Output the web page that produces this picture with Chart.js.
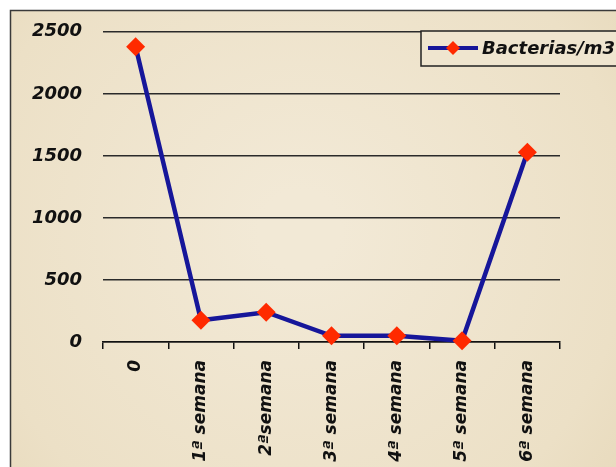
<!DOCTYPE html>
<html>
<head>
<meta charset="utf-8">
<script src="https://cdn.jsdelivr.net/npm/chart.js@4/dist/chart.umd.min.js"></script>
<style>
  html, body { margin: 0; padding: 0; background: #fff; }
  canvas { display: block; }
</style>
</head>
<body>
<canvas id="chart" width="616" height="467"></canvas>
<script>
const categories = ["0", "1ª semana", "2ªsemana", "3ª semana", "4ª semana", "5ª semana", "6ª semana"];
const bacterias = [2380, 175, 240, 50, 50, 10, 1530];
const yTicks = [0, 500, 1000, 1500, 2000, 2500];

const fontFamily = "'DejaVu Sans', 'Liberation Sans', Arial, sans-serif";
const lineColor = "#16169a";
const markerColor = "#ff2a00";

// parchment-like background and the outer frame
const backdrop = {
	id: "backdrop",
	beforeDraw(chart) {
		const { ctx, width, height } = chart;
		ctx.save();
		ctx.fillStyle = "#fff";
		ctx.fillRect(0, 0, width, height);
		const g = ctx.createRadialGradient(300, 230, 40, 300, 230, 520);
		g.addColorStop(0, "#f2e9d6");
		g.addColorStop(0.6, "#ece0c6");
		g.addColorStop(1, "#e2d2b0");
		ctx.fillStyle = g;
		ctx.fillRect(10, 10, width - 10, height - 10);
		ctx.strokeStyle = "#3a3a3a";
		ctx.lineWidth = 1.5;
		ctx.beginPath();
		ctx.moveTo(10.5, height);
		ctx.lineTo(10.5, 10.5);
		ctx.lineTo(width, 10.5);
		ctx.stroke();
		ctx.restore();
	}
};

// Excel style legend box, partly cut by the right edge
const boxLegend = {
	id: "boxLegend",
	afterDraw(chart) {
		const { ctx, width } = chart;
		const ds = chart.data.datasets[0];
		const left = 421, top = 31, bottom = 66, mid = 48;
		ctx.save();
		ctx.fillStyle = "#efe5cf";
		ctx.fillRect(left, top, width - left, bottom - top);
		ctx.strokeStyle = "#222";
		ctx.lineWidth = 1.5;
		ctx.beginPath();
		ctx.moveTo(width, top);
		ctx.lineTo(left, top);
		ctx.lineTo(left, bottom);
		ctx.lineTo(width, bottom);
		ctx.stroke();
		ctx.strokeStyle = ds.borderColor;
		ctx.lineWidth = 4;
		ctx.beginPath();
		ctx.moveTo(428, mid);
		ctx.lineTo(478, mid);
		ctx.stroke();
		ctx.fillStyle = ds.pointBackgroundColor;
		ctx.beginPath();
		ctx.moveTo(453, mid - 7);
		ctx.lineTo(460, mid);
		ctx.lineTo(453, mid + 7);
		ctx.lineTo(446, mid);
		ctx.closePath();
		ctx.fill();
		ctx.fillStyle = "#111";
		ctx.font = "italic bold 18px " + fontFamily;
		ctx.textBaseline = "middle";
		ctx.fillText(ds.label, 482, mid + 1);
		ctx.restore();
	}
};

new Chart(document.getElementById("chart"), {
	type: "line",
	data: {
		labels: categories,
		datasets: [{
			label: "Bacterias/m3",
			data: bacterias,
			borderColor: lineColor,
			borderWidth: 4.5,
			tension: 0,
			pointStyle: "rectRot",
			pointRadius: 9.5,
			pointHoverRadius: 9.5,
			pointBackgroundColor: markerColor,
			pointBorderWidth: 0,
			clip: false
		}]
	},
	plugins: [backdrop, boxLegend],
	options: {
		responsive: false,
		animation: false,
		layout: { padding: { top: 31, right: 56, left: 0, bottom: 0 } },
		plugins: {
			legend: { display: false },
			tooltip: { enabled: false }
		},
		scales: {
			y: {
				min: 0,
				max: 2500,
				afterBuildTicks(axis) {
					axis.ticks = yTicks.map(v => ({ value: v }));
				},
				afterFit(axis) { axis.width = 103; },
				ticks: {
					padding: 21,
					color: "#111",
					callback: v => String(v),
					font: { family: fontFamily, size: 18, style: "italic", weight: "bold" }
				},
				grid: { color: "#2a2a2a", lineWidth: 1.5, drawTicks: false },
				border: { display: false }
			},
			x: {
				offset: true,
				afterFit(axis) { axis.height = 125; },
				ticks: {
					minRotation: 90,
					maxRotation: 90,
					padding: 11,
					color: "#111",
					font: { family: fontFamily, size: 17, style: "italic", weight: "bold" }
				},
				grid: { offset: true, drawOnChartArea: false, tickLength: 7, color: "#111", lineWidth: 1.5 },
				border: { display: true, color: "#111", width: 1.5 }
			}
		}
	}
});
</script>
</body>
</html>
